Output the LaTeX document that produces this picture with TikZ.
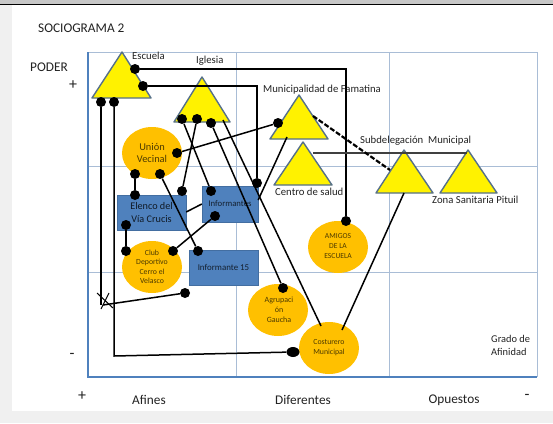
\documentclass[tikz,border=0pt]{standalone}
\usepackage{fontspec}
\usepackage{xcolor}
\setmainfont{Carlito}
\usetikzlibrary{shapes.geometric}
\definecolor{frameblue}{HTML}{4F81BD}
\definecolor{gridblue}{HTML}{A9BDD6}
\definecolor{triedge}{HTML}{55708A}
\definecolor{ink}{HTML}{222222}
\definecolor{orange0}{HTML}{FFC000}
\tikzset{
  x=1pt,y=-1pt,
  dotn/.style={circle,fill=black,inner sep=0pt,minimum size=10pt},
  orgell/.style={ellipse,fill=orange0,inner sep=0pt,minimum width=60pt,minimum height=52pt},
  bluebox/.style={rectangle,fill=frameblue,draw=frameblue!85!black,line width=.4pt,inner sep=0pt},
  tri/.style={fill=yellow,draw=triedge,line width=1.4pt,line join=round},
  link/.style={draw=black,line width=1.5pt},
  lab/.style={inner sep=0pt,text=ink,font=\fontsize{10.7}{12}\selectfont},
  biglab/.style={inner sep=0pt,text=ink,font=\fontsize{13.3}{15}\selectfont},
  small/.style={inner sep=0pt,align=center,text=black!70!orange0,font=\fontsize{7.8}{9.5}\selectfont},
  mid/.style={inner sep=0pt,align=center,text=black!70!orange0,font=\fontsize{7.6}{10}\selectfont},
}
\begin{document}
\begin{tikzpicture}
\useasboundingbox (0,0) rectangle (553,423);
% page
\fill[black!6] (0,0) rectangle (553,423);
\fill[black!22] (0,0) rectangle (553,4);
\fill[white] (12,5) rectangle (553,411);
\draw[black,line width=1pt] (0,4.5) -- (553,4.5);
% grid
\draw[gridblue,line width=.7pt] (236,52) -- (236,377) (389,52) -- (389,377) (88,166) -- (537,166) (88,272) -- (537,272);
\draw[gridblue,line width=.9pt] (88,52) -- (537,52) -- (537,377);
\draw[frameblue,line width=1.6pt] (88,52) -- (88,377) -- (537,377);
% triangles
\coordinate (tEsc) at (122,52);
\coordinate (tIgl) at (202,77);
\coordinate (tMun) at (299,95);
\coordinate (tCen) at (303,142);
\coordinate (tSub) at (404,150);
\coordinate (tZon) at (468,150);
\draw[tri] (tEsc) -- (92,98) -- (151,98) -- cycle;
\draw[tri] (tIgl) -- (174,122) -- (230,122) -- cycle;
\draw[tri] (tMun) -- (270,139) -- (328,139) -- cycle;
\draw[tri] (tCen) -- (274,185) -- (332,185) -- cycle;
\draw[tri] (tSub) -- (376,193) -- (433,193) -- cycle;
\draw[tri] (tZon) -- (440,193) -- (497,193) -- cycle;
% ellipses
\node[orgell] (eUnion) at (152,153) {};
\node[orgell] (eClub) at (152,267) {};
\node[orgell] (eAmigos) at (338,247) {};
\node[orgell] (eAgrup) at (278,310) {};
\node[orgell] (eCost) at (329,348) {};
% boxes
\node[bluebox,minimum width=69pt,minimum height=35pt] (bElenco) at (151.5,212.5) {};
\node[bluebox,minimum width=56pt,minimum height=36pt] (bInf) at (230,204) {};
\node[bluebox,minimum width=69pt,minimum height=35pt] (bQuince) at (223.5,267.5) {};
% labels
\node[biglab,anchor=west] (tTitle) at (38,28) {SOCIOGRAMA 2};
\node[biglab,anchor=west] (tPoder) at (30,67) {PODER};
\node[biglab,font=\fontsize{16}{16}\selectfont] (tPlusA) at (73,85) {+};
\node[biglab,font=\fontsize{16}{16}\selectfont] (tMinusA) at (72,356) {-};
\node[biglab,font=\fontsize{16}{16}\selectfont] (tPlusB) at (82,396) {+};
\node[biglab,font=\fontsize{16}{16}\selectfont] (tMinusB) at (527,397) {-};
\node[biglab] (tAf) at (149,400) {Afines};
\node[biglab] (tDif) at (303,400) {Diferentes};
\node[biglab] (tOp) at (454,400) {Opuestos};
\node[lab,anchor=west] (tEs) at (132,56) {Escuela};
\node[lab,anchor=west] (tIg) at (196,61) {Iglesia};
\node[lab,anchor=west] (tMu) at (263,90) {Municipalidad de Famatina};
\node[lab,anchor=west] (tSu) at (360,141) {Subdelegación\ \ Municipal};
\node[lab,anchor=west] (tCe) at (275,192) {Centro de salud};
\node[lab,anchor=west] (tZo) at (432,200) {Zona Sanitaria Pituil};
\node[lab,anchor=west,align=left,font=\fontsize{10.4}{13}\selectfont] (tGr) at (491,345.5) {Grado de\\Afinidad};
\node[inner sep=0pt,align=center,text=black!70!orange0,font=\fontsize{10.4}{12.5}\selectfont] (tUn) at (eUnion.center) {Unión\\Vecinal};
\node[inner sep=0pt,align=center,text=black!80!frameblue,font=\fontsize{10.2}{12.5}\selectfont] (tEl) at (bElenco.center) {Elenco del\\Vía Crucis};
\node[inner sep=0pt,text=black!75!frameblue,font=\fontsize{8.7}{9}\selectfont] (tIn) at (bInf.center) {Informantes};
\node[inner sep=0pt,text=black!75!frameblue,font=\fontsize{8.9}{10}\selectfont] (tQu) at (bQuince.center) {Informante 15};
\node[small] (tCl) at (eClub.center) {Club\\Deportivo\\Cerro el\\Velasco};
\node[mid] (tAm) at (338,246) {AMIGOS\\DE LA\\ESCUELA};
\node[mid,font=\fontsize{8}{10}\selectfont] (tAg) at (279,310) {Agrupaci\\ón\\Gaucha};
\node[small] (tCo) at (329,347.5) {Costurero\\Municipal};
% dots
\node[dotn] (d1) at (135,69) {};
\node[dotn] (d2) at (143,86) {};
\node[dotn] (d3) at (101,102) {};
\node[dotn] (d4) at (114,102) {};
\node[dotn] (i1) at (182,119) {};
\node[dotn] (i2) at (197,119) {};
\node[dotn] (i3) at (211,123) {};
\coordinate (i4) at (223,120);
\node[dotn] (m1) at (278,123) {};
\coordinate (m2) at (287,137);
\coordinate (m3) at (313,116);
\coordinate (s1) at (390,170);
\coordinate (s2) at (404,193);
\coordinate (c1) at (313,153);
\coordinate (z1) at (467,153);
\node[dotn] (u1) at (177,153) {};
\node[dotn] (u2) at (135,174) {};
\node[dotn] (u3) at (160,174) {};
\node[dotn] (e1) at (135,195) {};
\node[dotn] (e2) at (182,191) {};
\node[dotn] (e3) at (126,225) {};
\node[dotn] (b1) at (211,191) {};
\node[dotn] (b2) at (257,183) {};
\node[dotn] (b3) at (215,216) {};
\node[dotn] (q1) at (198,251) {};
\node[dotn] (k1) at (126,251) {};
\node[dotn] (k2) at (173,251) {};
\node[dotn] (k3) at (185,293) {};
\node[dotn] (a1) at (346,221) {};
\node[dotn] (g1) at (283,288) {};
\node[dotn,minimum width=13pt,minimum height=10pt,ellipse] (co1) at (293,352) {};
\coordinate (co2) at (321,326);
\coordinate (co3) at (342,330);
\coordinate (xm) at (103,305);
\coordinate (xa) at (97,293);
\coordinate (xb) at (113,308);
\coordinate (xc) at (109,293);
\coordinate (xd) at (101,309);
% connectors
\draw[link] (d1) -| (a1);
\draw[link] (d2) -| (b2);
\draw[link] (d3) -- (d3 |- xm);
\draw[link] (d4) -- (114,356) -- (co1);
\draw[link] (i1) -- (b1);
\draw[link] (i2) -- (e2);
\draw[link] (i3) -- (g1);
\draw[link] (i4) -- (co2);
\draw[link] (u1) -- (m1);
\draw[link] (u2) -- (e1);
\draw[link] (u3) -- (q1);
\draw[link] (e3) -- (k1);
\draw[link] (k2) -- (b3);
\draw[link] (bElenco.east |- 0,212) -- (bInf.west |- 0,204);
\draw[link] (k3) -- (xm);
\draw[link,line width=1pt] (xa) -- (xb) (xc) -- (xd);
\draw[link] (m2) -- (bInf.east |- 0,200);
\draw[link] (s2) -- (co3);
\draw[draw=black!75,line width=2pt] (c1) -- (z1);
\draw[black,line width=2.2pt,dash pattern=on 5pt off 2pt] (m3) -- (s1);
\end{tikzpicture}
\end{document}
